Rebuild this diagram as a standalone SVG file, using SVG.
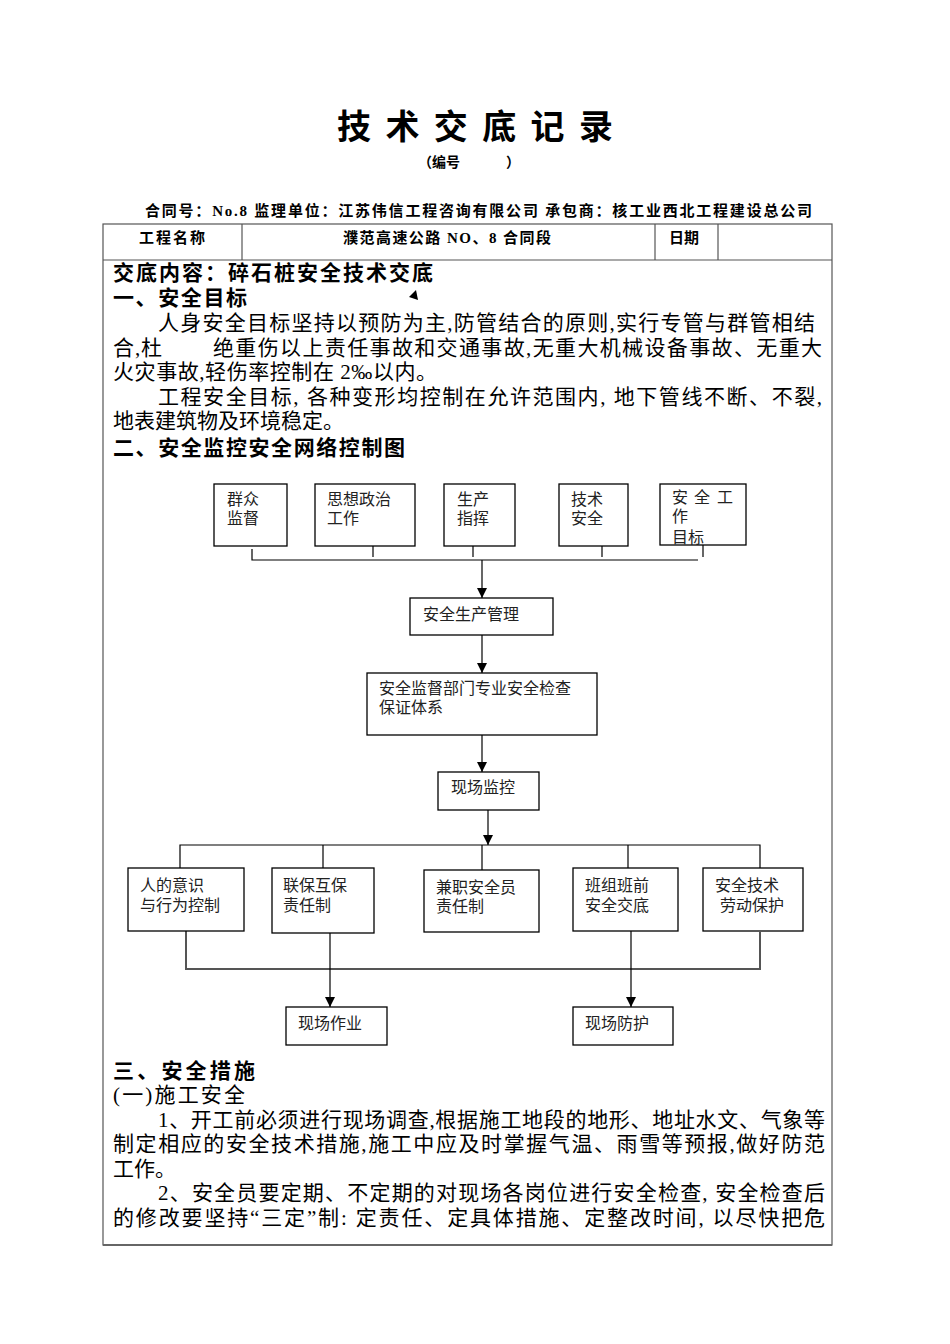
<svg xmlns="http://www.w3.org/2000/svg" width="950" height="1344" viewBox="0 0 950 1344">
<style>
.b{font-family:"Liberation Serif","Noto Sans CJK SC",serif;font-weight:bold;fill:#000}
.t{font-family:"Liberation Serif","Noto Sans CJK SC",serif;font-size:21px;fill:#000}
.h{font-family:"Liberation Serif","Noto Sans CJK SC",serif;font-size:21px;font-weight:bold;fill:#000}
.n{font-family:"Liberation Sans","Noto Sans CJK SC",sans-serif;font-size:16px;fill:#222}
.box{fill:#fff;stroke:#000;stroke-width:1.3}
.c{fill:none;stroke:#000;stroke-width:1.2}
.g{fill:none;stroke:#555;stroke-width:2}
.tb{fill:none;stroke:#555;stroke-width:1.2}
</style>
<defs>
<marker id="ar" markerUnits="userSpaceOnUse" markerWidth="10" markerHeight="10" refX="10" refY="5" orient="auto">
<path d="M0,0 L10,5 L0,10 z" fill="#000"/>
</marker>
</defs>
<rect width="950" height="1344" fill="#fff"/>

<g id="header">
<text class="b" x="337" y="139" font-size="34" textLength="276" lengthAdjust="spacing">技术交底记录</text>
<text class="b" x="418" y="167" font-size="14">（编号</text>
<text class="b" x="506" y="167" font-size="14">）</text>
<text class="b" x="145" y="216" font-size="15" textLength="667" lengthAdjust="spacing">合同号：No.8 监理单位：江苏伟信工程咨询有限公司 承包商：核工业西北工程建设总公司</text>
</g>

<g id="table">
<rect class="tb" x="103" y="224" width="729" height="1021"/>
<line class="tb" x1="103" y1="260" x2="832" y2="260"/>
<line class="tb" x1="242" y1="224" x2="242" y2="260"/>
<line class="tb" x1="655" y1="224" x2="655" y2="260"/>
<line class="tb" x1="718" y1="224" x2="718" y2="260"/>
<line x1="103" y1="1245" x2="832" y2="1245" stroke="#666" stroke-width="2"/>
<text class="b" x="139" y="243" font-size="15" textLength="66" lengthAdjust="spacing">工程名称</text>
<text class="b" x="343" y="243" font-size="15" textLength="208" lengthAdjust="spacing">濮范高速公路 NO、8 合同段</text>
<text class="b" x="669" y="243" font-size="15">日期</text>
</g>

<g id="body-top">
<text class="h" x="113" y="280" textLength="320" lengthAdjust="spacing">交底内容：碎石桩安全技术交底</text>
<text class="h" x="113" y="305" textLength="134" lengthAdjust="spacing">一、安全目标</text>
<polygon points="409,297 416,290 418,300" fill="#000"/>
<text class="t" x="158" y="330" textLength="657" lengthAdjust="spacing">人身安全目标坚持以预防为主,防管结合的原则,实行专管与群管相结</text>
<text class="t" x="113" y="355" textLength="49" lengthAdjust="spacing">合,杜</text>
<text class="t" x="213" y="355" textLength="609" lengthAdjust="spacing">绝重伤以上责任事故和交通事故,无重大机械设备事故、无重大</text>
<text class="t" x="113" y="379" textLength="324" lengthAdjust="spacing">火灾事故,轻伤率控制在 2‰以内。</text>
<text class="t" x="158" y="404" textLength="664" lengthAdjust="spacing">工程安全目标, 各种变形均控制在允许范围内, 地下管线不断、不裂,</text>
<text class="t" x="113" y="428" textLength="231" lengthAdjust="spacing">地表建筑物及环境稳定。</text>
<text class="h" x="113" y="455" textLength="292" lengthAdjust="spacing">二、安全监控安全网络控制图</text>
</g>

<g id="connectors">
<path class="c" d="M252,549 V560 H698"/>
<path class="c" d="M373,546 V557"/>
<path class="c" d="M473,546 V557"/>
<path class="c" d="M602,546 V557"/>
<path class="c" d="M703,538 V557"/>
<path class="c" d="M482,560 V598" marker-end="url(#ar)"/>
<path class="c" d="M482,635 V673" marker-end="url(#ar)"/>
<path class="c" d="M482,735 V772" marker-end="url(#ar)"/>
<path class="c" d="M488,810 V845" marker-end="url(#ar)"/>
<path class="c" d="M180,868 V845 H760 V868"/>
<path class="c" d="M323,845 V868"/>
<path class="c" d="M482,845 V870"/>
<path class="c" d="M628,845 V868"/>
<path class="g" d="M186,931 V969 H760 V932"/>
<path class="c" d="M330,933 V1007" marker-end="url(#ar)"/>
<path class="c" d="M631,931 V1007" marker-end="url(#ar)"/>
</g>

<g id="n1"><rect class="box" x="214" y="484" width="73" height="62"/><text class="n" x="227" y="505">群众</text><text class="n" x="227" y="524">监督</text></g>
<g id="n2"><rect class="box" x="315" y="484" width="100" height="62"/><text class="n" x="327" y="505">思想政治</text><text class="n" x="327" y="524">工作</text></g>
<g id="n3"><rect class="box" x="444" y="484" width="71" height="62"/><text class="n" x="457" y="505">生产</text><text class="n" x="457" y="524">指挥</text></g>
<g id="n4"><rect class="box" x="559" y="484" width="69" height="62"/><text class="n" x="571" y="505">技术</text><text class="n" x="571" y="524">安全</text></g>
<g id="n5"><rect class="box" x="660" y="484" width="86" height="61"/><text class="n" x="672" y="503">安</text><text class="n" x="694" y="503">全</text><text class="n" x="717" y="503">工</text><text class="n" x="672" y="522">作</text><text class="n" x="672" y="543">目标</text></g>
<g id="n6"><rect class="box" x="410" y="598" width="143" height="37"/><text class="n" x="423" y="620">安全生产管理</text></g>
<g id="n7"><rect class="box" x="367" y="673" width="230" height="62"/><text class="n" x="379" y="694">安全监督部门专业安全检查</text><text class="n" x="379" y="713">保证体系</text></g>
<g id="n8"><rect class="box" x="438" y="772" width="101" height="38"/><text class="n" x="451" y="793">现场监控</text></g>
<g id="n9"><rect class="box" x="128" y="868" width="116" height="63"/><text class="n" x="140" y="891">人的意识</text><text class="n" x="140" y="911">与行为控制</text></g>
<g id="n10"><rect class="box" x="272" y="868" width="102" height="65"/><text class="n" x="283" y="891">联保互保</text><text class="n" x="283" y="911">责任制</text></g>
<g id="n11"><rect class="box" x="424" y="870" width="115" height="62"/><text class="n" x="436" y="893">兼职安全员</text><text class="n" x="436" y="912">责任制</text></g>
<g id="n12"><rect class="box" x="573" y="868" width="105" height="63"/><text class="n" x="585" y="891">班组班前</text><text class="n" x="585" y="911">安全交底</text></g>
<g id="n13"><rect class="box" x="703" y="868" width="100" height="63"/><text class="n" x="715" y="891">安全技术</text><text class="n" x="720" y="911">劳动保护</text></g>
<g id="n14"><rect class="box" x="286" y="1007" width="101" height="38"/><text class="n" x="298" y="1029">现场作业</text></g>
<g id="n15"><rect class="box" x="573" y="1007" width="100" height="38"/><text class="n" x="585" y="1029">现场防护</text></g>

<g id="body-bottom">
<text class="h" x="113" y="1078" textLength="142" lengthAdjust="spacing">三、安全措施</text>
<text class="t" x="113" y="1102" textLength="132" lengthAdjust="spacing">(一)施工安全</text>
<text class="t" x="158" y="1127" textLength="667" lengthAdjust="spacing">1、开工前必须进行现场调查,根据施工地段的地形、地址水文、气象等</text>
<text class="t" x="113" y="1151" textLength="712" lengthAdjust="spacing">制定相应的安全技术措施,施工中应及时掌握气温、雨雪等预报,做好防范</text>
<text class="t" x="113" y="1176">工作。</text>
<text class="t" x="158" y="1200" textLength="667" lengthAdjust="spacing">2、安全员要定期、不定期的对现场各岗位进行安全检查, 安全检查后</text>
<text class="t" x="113" y="1225" textLength="712" lengthAdjust="spacing">的修改要坚持“三定”制: 定责任、定具体措施、定整改时间, 以尽快把危</text>
</g>
</svg>
